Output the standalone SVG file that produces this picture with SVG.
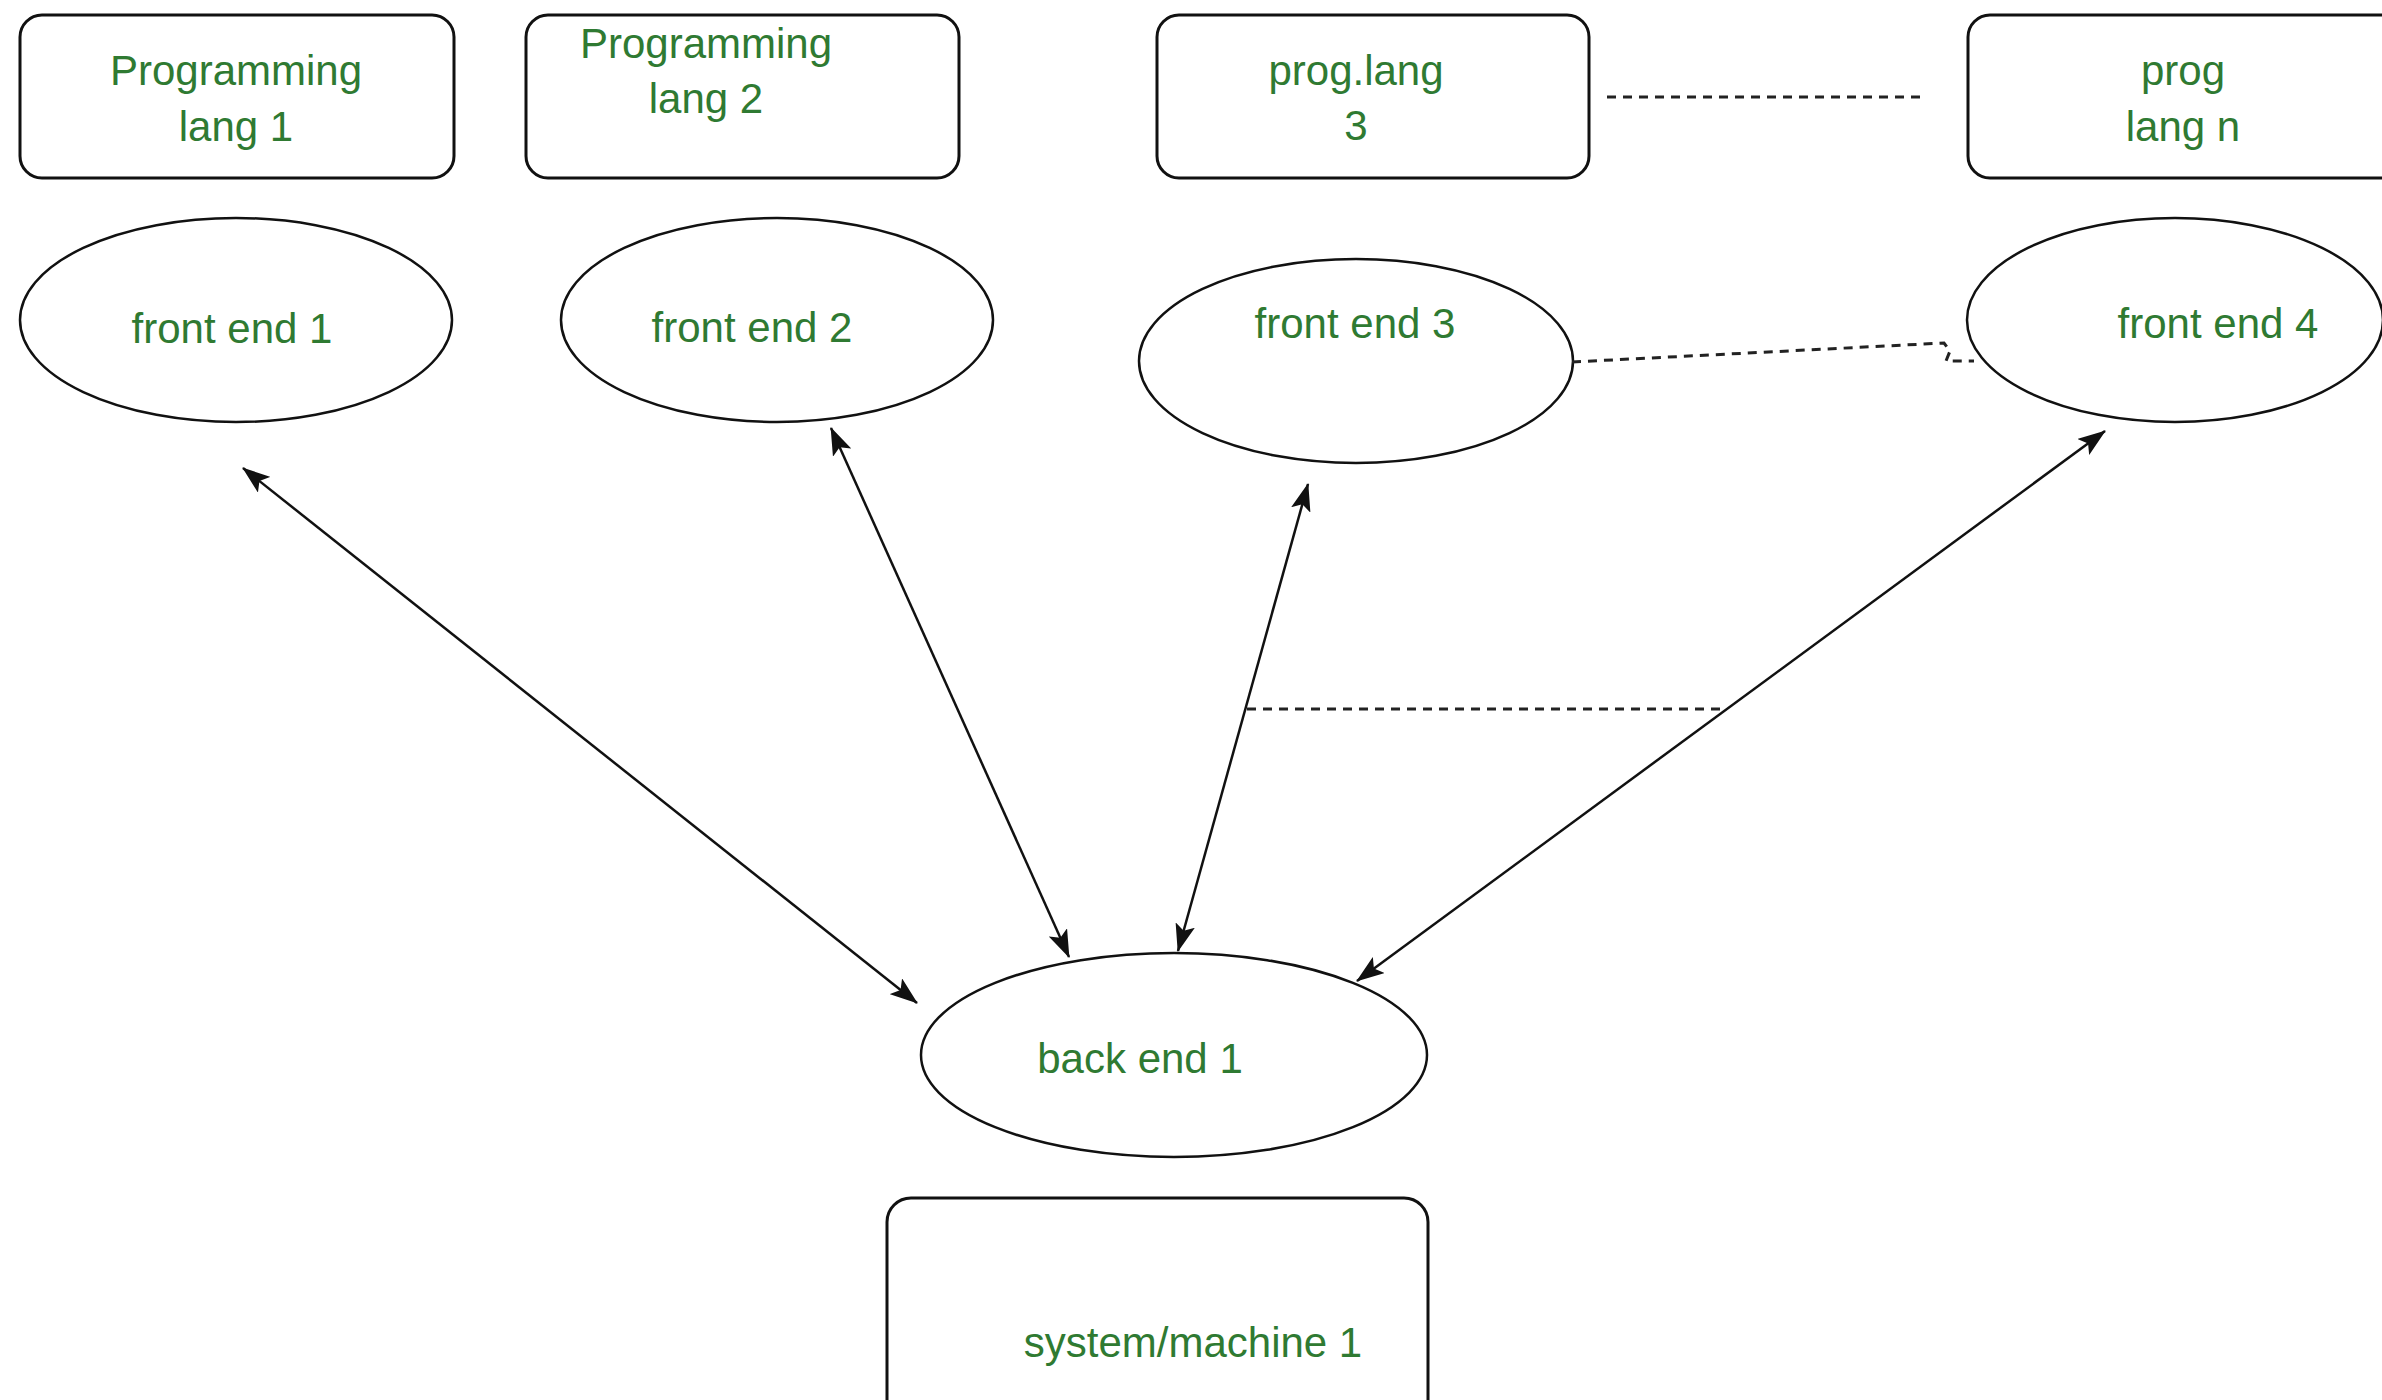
<svg xmlns="http://www.w3.org/2000/svg" width="2382" height="1400" viewBox="0 0 2382 1400">
  <style>
    .box { fill: #ffffff; stroke: #111111; stroke-width: 3; }
    .oval { fill: #ffffff; stroke: #111111; stroke-width: 2.5; }
    .lbl { font-family: "Liberation Sans", Arial, sans-serif; font-size: 42px; fill: #2f7a32; text-anchor: middle; }
    .link { fill: none; stroke: #111111; stroke-width: 2.5; marker-start: url(#head); marker-end: url(#head); }
    .dash { fill: none; stroke: #222222; stroke-width: 3; stroke-dasharray: 9 7; }
  </style>
  <defs>
    <marker id="head" viewBox="0 0 28 20" refX="27" refY="10" markerWidth="28" markerHeight="20" markerUnits="userSpaceOnUse" orient="auto-start-reverse">
      <path d="M0,0 L28,10 L0,20 L6,10 Z" fill="#111111"/>
    </marker>
  </defs>
  <rect width="2382" height="1400" fill="#ffffff"/>

  <!-- language boxes -->
  <g id="lang1">
    <rect class="box" x="20" y="15" width="434" height="163" rx="22"/>
    <text class="lbl" x="236" y="85">Programming</text>
    <text class="lbl" x="236" y="141">lang 1</text>
  </g>
  <g id="lang2">
    <rect class="box" x="526" y="15" width="433" height="163" rx="22"/>
    <text class="lbl" x="706" y="58">Programming</text>
    <text class="lbl" x="706" y="113">lang 2</text>
  </g>
  <g id="lang3">
    <rect class="box" x="1157" y="15" width="432" height="163" rx="22"/>
    <text class="lbl" x="1356" y="85">prog.lang</text>
    <text class="lbl" x="1356" y="140">3</text>
  </g>
  <g id="langn">
    <rect class="box" x="1968" y="15" width="440" height="163" rx="22"/>
    <text class="lbl" x="2183" y="85">prog</text>
    <text class="lbl" x="2183" y="141">lang n</text>
  </g>

  <!-- front ends -->
  <g id="fe1">
    <ellipse class="oval" cx="236" cy="320" rx="216" ry="102"/>
    <text class="lbl" x="232" y="343">front end 1</text>
  </g>
  <g id="fe2">
    <ellipse class="oval" cx="777" cy="320" rx="216" ry="102"/>
    <text class="lbl" x="752" y="342">front end 2</text>
  </g>
  <g id="fe3">
    <ellipse class="oval" cx="1356" cy="361" rx="217" ry="102"/>
    <text class="lbl" x="1355" y="338">front end 3</text>
  </g>
  <g id="fe4">
    <ellipse class="oval" cx="2175" cy="320" rx="208" ry="102"/>
    <text class="lbl" x="2218" y="338">front end 4</text>
  </g>

  <!-- back end and target machine -->
  <g id="be1">
    <ellipse class="oval" cx="1174" cy="1055" rx="253" ry="102"/>
    <text class="lbl" x="1140" y="1073">back end 1</text>
  </g>
  <g id="machine1">
    <rect class="box" x="887" y="1198" width="541" height="230" rx="24"/>
    <text class="lbl" x="1193" y="1357">system/machine 1</text>
  </g>

  <!-- connectors -->
  <g id="connectors">
    <line class="link" x1="243" y1="468" x2="917" y2="1003"/>
    <line class="link" x1="831" y1="428" x2="1069" y2="957"/>
    <line class="link" x1="1308" y1="484" x2="1178" y2="951"/>
    <line class="link" x1="2105" y1="431" x2="1357" y2="981"/>
    <line class="dash" x1="1607" y1="97" x2="1924" y2="97"/>
    <path class="dash" d="M1572,362 L1944,343 L1950,351 L1946,361 L1974,361"/>
    <line class="dash" x1="1247" y1="709" x2="1724" y2="709"/>
  </g>
</svg>
